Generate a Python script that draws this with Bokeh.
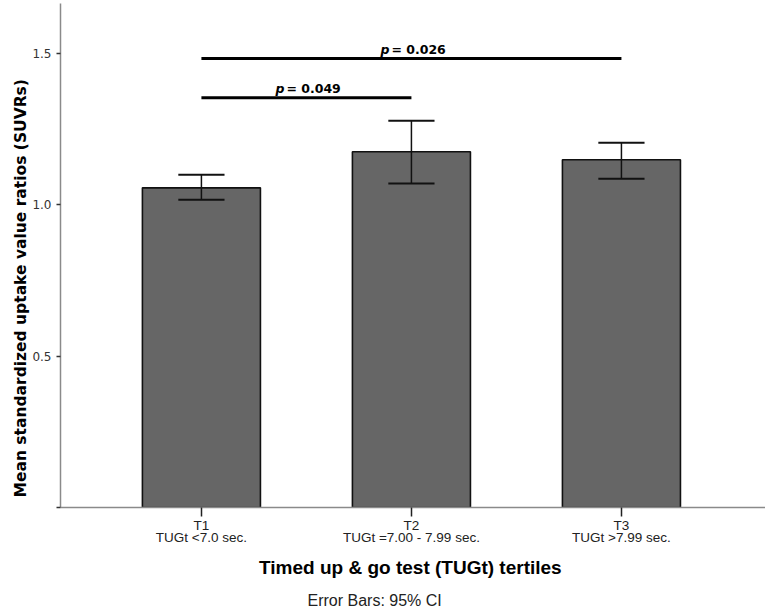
from bokeh.plotting import figure
from bokeh.models import FixedTicker, Title
from bokeh.core.properties import value
from bokeh.embed import file_html
from bokeh.resources import INLINE

# ---- data ----
categories = ["T1", "T2", "T3"]
cat_desc = ["TUGt <7.0 sec.", "TUGt =7.00 - 7.99 sec.", "TUGt >7.99 sec."]
positions = [1, 2, 3]
means = [1.056, 1.175, 1.149]
ci_low = [1.017, 1.070, 1.086]
ci_high = [1.099, 1.278, 1.205]
y_ticks = [0.0, 0.5, 1.0, 1.5]
y_tick_labels = ["", "0.5", "1.0", "1.5"]
comp_from = [1, 1]
comp_to = [3, 2]
comp_y = [1.483, 1.354]
comp_p = ["= 0.026", "= 0.049"]

BAR_W = 0.562
CAP_HALF = 0.11

p = figure(width=765, height=616, x_range=(0.329, 3.686), y_range=(0, 1.665),
           output_backend="svg", toolbar_location=None,
           min_border_left=60, min_border_right=0, min_border_top=3,
           min_border_bottom=109)
p.outline_line_color = None
p.xgrid.visible = False
p.ygrid.visible = False
p.background_fill_color = "white"
p.border_fill_color = "white"

# bars
p.vbar(x=positions, top=means, width=BAR_W, bottom=0, fill_color="#666666",
       line_color="#111111", line_width=1.6)

# error bars
p.segment(x0=positions, y0=ci_low, x1=positions, y1=ci_high,
          line_color="#111111", line_width=1.5)
p.segment(x0=[x - CAP_HALF for x in positions], y0=ci_high,
          x1=[x + CAP_HALF for x in positions], y1=ci_high,
          line_color="#111111", line_width=2)
p.segment(x0=[x - CAP_HALF for x in positions], y0=ci_low,
          x1=[x + CAP_HALF for x in positions], y1=ci_low,
          line_color="#111111", line_width=2)

# significance lines
p.segment(x0=comp_from, y0=comp_y, x1=comp_to, y1=comp_y,
          line_color="black", line_width=3)
mids = [(a + b) / 2 for a, b in zip(comp_from, comp_to)]
p.text(x=mids, y=comp_y, text=["p", "p"], text_font=value("DejaVu Sans"),
       text_font_style="bold italic", text_font_size="12.5px", text_color="black",
       text_align="right", text_baseline="alphabetic", x_offset=-22, y_offset=-9)
p.text(x=mids, y=comp_y, text=comp_p, text_font=value("DejaVu Sans"),
       text_font_style="bold", text_font_size="12.5px", text_color="black",
       text_align="left", text_baseline="alphabetic", x_offset=-20, y_offset=-9)

# axes
xa = p.xaxis[0]
xa.ticker = FixedTicker(ticks=positions)
xa.major_label_overrides = {pos: f"{c}\n{d}" for pos, c, d in zip(positions, categories, cat_desc)}
xa.axis_line_color = "#8a8a8a"
xa.axis_line_width = 1.5
xa.major_tick_line_color = "#222222"
xa.major_tick_line_width = 1.5
xa.major_tick_out = 9
xa.major_tick_in = 0
xa.minor_tick_line_color = None
xa.major_label_text_font = "Liberation Sans"
xa.major_label_text_font_size = "13.5px"
xa.major_label_text_color = "#222222"
xa.major_label_text_line_height = 0.85
xa.major_label_standoff = 1
xa.axis_label = "Timed up & go test  (TUGt) tertiles"
xa.axis_label_text_font = "Liberation Sans"
xa.axis_label_text_font_style = "bold"
xa.axis_label_text_font_size = "19px"
xa.axis_label_text_color = "black"
xa.axis_label_standoff = 9

ya = p.yaxis[0]
ya.ticker = FixedTicker(ticks=y_ticks)
ya.major_label_overrides = {t: l for t, l in zip(y_ticks, y_tick_labels)}
ya.axis_line_color = "#8a8a8a"
ya.axis_line_width = 1.5
ya.major_tick_line_color = "#333333"
ya.major_tick_line_width = 1.5
ya.major_tick_out = 4
ya.major_tick_in = 0
ya.minor_tick_line_color = None
ya.major_label_text_font = "DejaVu Sans"
ya.major_label_text_font_size = "12px"
ya.major_label_text_color = "#333333"
ya.major_label_standoff = 5

# titles
p.add_layout(Title(text="Mean standardized uptake value ratios (SUVRs)",
                   align="left", offset=10, standoff=0,
                   text_font="DejaVu Sans", text_font_style="bold",
                   text_font_size="15.5px", text_color="black"), "left")
p.add_layout(Title(text="Error Bars: 95% CI", align="left", offset=247,
                   standoff=16, text_font="Liberation Sans",
                   text_font_style="normal", text_font_size="16px",
                   text_color="#222222"), "below")

open("out.html", "w").write(file_html(p, INLINE))
